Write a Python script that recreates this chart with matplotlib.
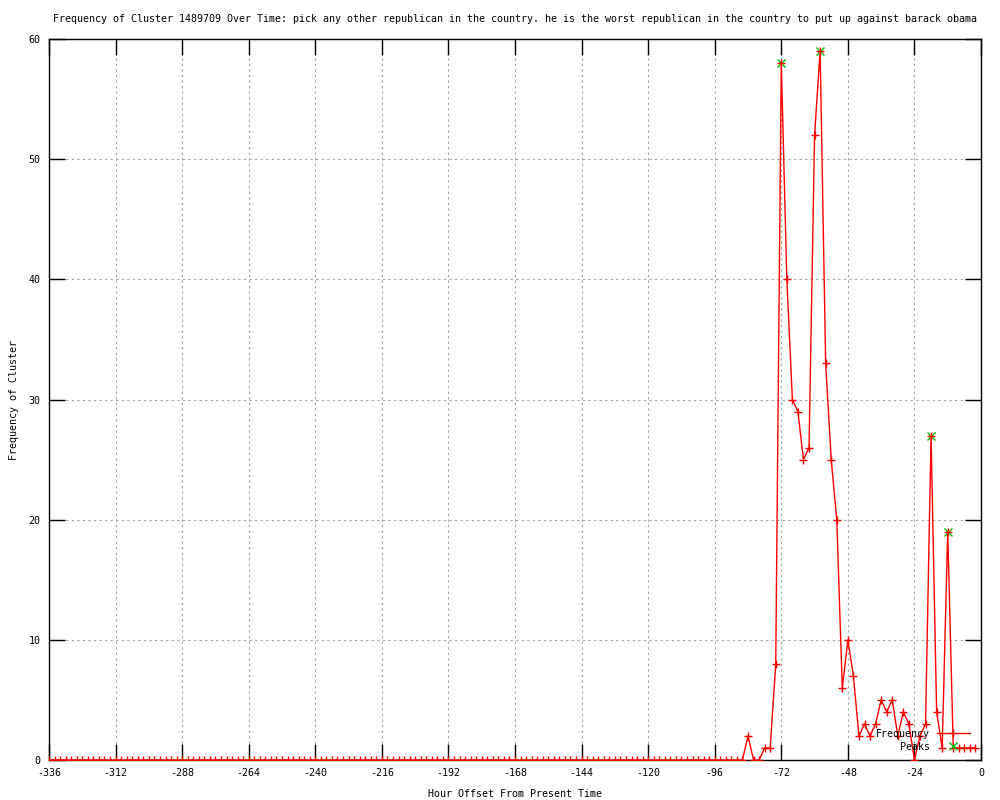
import numpy as np
import matplotlib
matplotlib.use("Agg")
import matplotlib.pyplot as plt

# hours before now, one sample every two hours
hours = np.arange(-336, 0, 2)
freq = [
    0, 0, 0, 0, 0, 0, 0, 0, 0, 0, 0, 0, 0, 0, 0, 0, 0, 0, 0, 0, 0,
    0, 0, 0, 0, 0, 0, 0, 0, 0, 0, 0, 0, 0, 0, 0, 0, 0, 0, 0, 0, 0,
    0, 0, 0, 0, 0, 0, 0, 0, 0, 0, 0, 0, 0, 0, 0, 0, 0, 0, 0, 0, 0,
    0, 0, 0, 0, 0, 0, 0, 0, 0, 0, 0, 0, 0, 0, 0, 0, 0, 0, 0, 0, 0,
    0, 0, 0, 0, 0, 0, 0, 0, 0, 0, 0, 0, 0, 0, 0, 0, 0, 0, 0, 0, 0,
    0, 0, 0, 0, 0, 0, 0, 0, 0, 0, 0, 0, 0, 0, 0, 0, 0, 0, 0, 0, 0,
    # -84 .. -2
    2, 0, 0, 1, 1, 8, 58, 40, 30, 29, 25, 26, 52, 59, 33, 25, 20, 6, 10, 7, 2,
    3, 2, 3, 5, 4, 5, 2, 4, 3, 0, 2, 3, 27, 4, 1, 19, 1, 1, 1, 1, 1,
]
peak_hours = [-72, -58, -18, -12]
peak_freq = [58, 59, 27, 19]

title = ("Frequency of Cluster 1489709 Over Time: pick any other republican in the "
         "country. he is the worst republican in the country to put up against barack obama")

plt.rcParams['font.family'] = ['DejaVu Sans Mono']
plt.rcParams['font.size'] = 7.2
plt.rcParams['axes.unicode_minus'] = False

fig = plt.figure(figsize=(10, 8), dpi=100)
ax = fig.add_axes([0.049, 0.05, 0.932, 0.90125])

ax.plot(peak_hours, peak_freq, linestyle='none', marker='x', color='#00c000',
        markersize=6, markeredgewidth=1, label='Peaks', zorder=2)
ax.plot(hours, freq, color='red', lw=1, marker='+', markersize=6,
        markeredgewidth=1, label='Frequency', zorder=3)

ax.set_xlim(-336, 0)
ax.set_ylim(0, 60)
ax.set_xticks(np.arange(-336, 1, 24))
ax.set_yticks(np.arange(0, 61, 10))
ax.tick_params(direction='in', length=11.5, width=1, top=True, right=True, pad=6,
               labelsize=7.2)
ax.grid(True, color='#a0a0a0', linestyle=(0, (2, 3)), linewidth=0.8)
for s in ax.spines.values():
    s.set_linewidth(1)

ax.set_title(title, fontsize=7.2, pad=12.5)
ax.set_xlabel("Hour Offset From Present Time", labelpad=8)
ax.set_ylabel("Frequency of Cluster", labelpad=7)

h, l = ax.get_legend_handles_labels()
ax.legend(h[::-1], l[::-1], loc='upper right', bbox_to_anchor=(0.988, 0.043),
          frameon=False, markerfirst=False, numpoints=1, handlelength=3.3,
          handletextpad=0.7, labelspacing=0.3, borderpad=0, borderaxespad=0)

plt.savefig("out.png", dpi=100)
